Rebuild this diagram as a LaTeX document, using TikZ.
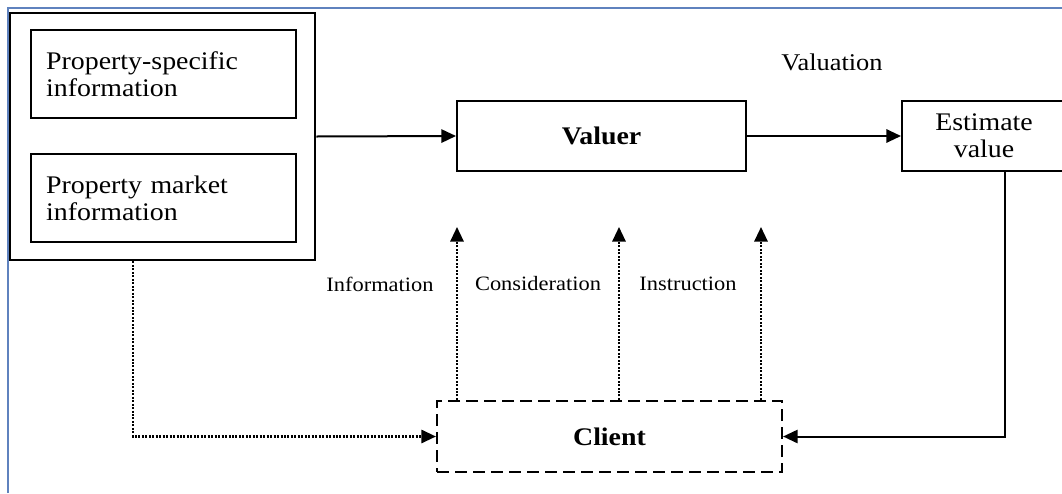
\documentclass[tikz,border=0pt]{standalone}
\usepackage{fontspec}
\setmainfont{Liberation Serif}[FakeStretch=1.1]
\usetikzlibrary{arrows.meta}
\definecolor{frameblue}{RGB}{95,130,190}
\tikzset{
  box/.style={draw, line width=1.5pt, inner sep=0pt, font=\fontsize{19}{20}\selectfont},
  flow/.style={line width=1.5pt, -{Triangle[length=11pt,width=10pt]}},
  dotflow/.style={flow, line width=1.6pt, dash pattern=on 1.5pt off 1.1pt},
  flowlabel/.style={font=\fontsize{15.3}{17}\selectfont},
}
\begin{document}
\begin{tikzpicture}[x=0.75pt, y=-0.75pt]
  \useasboundingbox (0,0) rectangle (1062,493);
  \draw[frameblue, line width=2pt] (8,493) -- (8,8) -- (1062,8); % frame
  \node[box, line width=2.2pt, minimum width=228.75pt, minimum height=185.25pt] (inputs) at (162.5,136.5) {}; % outer box
  \node[box, minimum width=198.75pt, minimum height=66pt, text width=176pt, align=left] (specific) at (163.5,74) {Property-specific\\information};
  \node[box, minimum width=198.75pt, minimum height=66pt, text width=176pt, align=left] (market) at (163.5,198) {Property market\\information};
  \node[box, minimum width=216.75pt, minimum height=52.5pt] (valuer) at (601.5,136) {\textbf{Valuer}};
  \node[box, minimum width=123pt, minimum height=52.5pt, align=center] (estimate) at (984,136) {Estimate\\value};
  \node[box, line width=1.6pt, dash pattern=on 9pt off 4.5pt, minimum width=258.75pt, minimum height=53.25pt] (client) at (609.5,436.5) {\textbf{Client}};
  \node[font=\fontsize{18}{20}\selectfont] (valuation) at (832,62) {Valuation};
  \node[flowlabel] (information) at (380,284) {Information};
  \node[flowlabel] (consideration) at (538,284) {Consideration};
  \node[flowlabel] (instruction) at (688,284) {Instruction};
  \draw[flow] (inputs.east) -- (valuer.west); % inputs to valuer
  \draw[flow] (valuer.east) -- (estimate.west); % valuer to estimate
  \draw[flow] ([xshift=15.75pt]estimate.south) |- (client.east); % back to client
  \draw[dotflow] ([xshift=-22pt]inputs.south) |- (client.west); % inputs to client
  \foreach \x/\n in {457/1, 619/2, 761/3}{
    \coordinate (tip\n) at (\x,227);
    \draw[dotflow] (client.north -| tip\n) -- (tip\n); % client upwards
  }
\end{tikzpicture}
\end{document}
